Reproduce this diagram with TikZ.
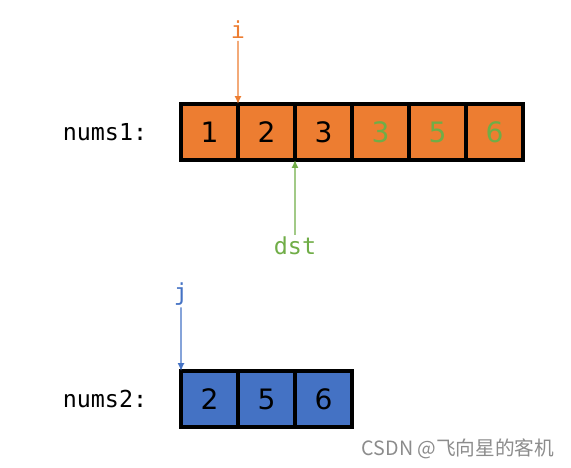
\documentclass[tikz,border=0pt]{standalone}
\usepackage{fontspec}
\setmainfont{DejaVu Sans}
\setmonofont{DejaVu Sans Mono}
\newfontfamily\cjk{Noto Sans CJK SC}
\usetikzlibrary{arrows.meta, positioning}

\definecolor{cellorange}{HTML}{ED7D31}
\definecolor{cellblue}{HTML}{4472C4}
\definecolor{markgreen}{HTML}{70AD47}

\begin{document}
\begin{tikzpicture}[
    x=0.02cm, y=-0.02cm,
    cell/.style={rectangle, draw=black, line width=2.1pt, outer sep=0pt, minimum width=1.14cm, minimum height=1.12cm, font=\fontsize{16}{18}\selectfont},
    arrname/.style={font=\ttfamily\fontsize{13.3}{15}\selectfont},
    ptr/.style={arrname, inner sep=1pt},
    pline/.style={draw, -{Latex[length=4.5pt, width=4pt]}, line width=0.8pt}
]
\useasboundingbox (0,0) rectangle (571,467);

% nums1
\node [cell, fill=cellorange] (a1) at (209.5,132) {1};
\node [cell, fill=cellorange, right=0pt of a1] (a2) {2};
\node [cell, fill=cellorange, right=0pt of a2] (a3) {3};
\node [cell, fill=cellorange, text=markgreen, right=0pt of a3] (a4) {3};
\node [cell, fill=cellorange, text=markgreen, right=0pt of a4] (a5) {5};
\node [cell, fill=cellorange, text=markgreen, right=0pt of a5] (a6) {6};
\node [arrname] (n1) at (105,132) {nums1:};

% nums2
\node [cell, fill=cellblue] (b1) at (209.5,399) {2};
\node [cell, fill=cellblue, right=0pt of b1] (b2) {5};
\node [cell, fill=cellblue, right=0pt of b2] (b3) {6};
\node [arrname] (n2) at (105,399) {nums2:};

% pointers
\node [ptr, text=cellorange] (i) at (238,30) {i};
\node [ptr, text=markgreen] (dst) at (295,246) {dst};
\node [ptr, text=cellblue] (j) at (181,294) {j};

\path [pline, cellorange] (i) -- (a2.north west);
\path [pline, markgreen] (dst) -- (a3.south west);
\path [pline, cellblue] (j) -- (b1.north west);

\node [text=black!45, font=\cjk\fontsize{11.2}{13}\selectfont] (mark) at (458,449) {CSDN @飞向星的客机};
\end{tikzpicture}
\end{document}
